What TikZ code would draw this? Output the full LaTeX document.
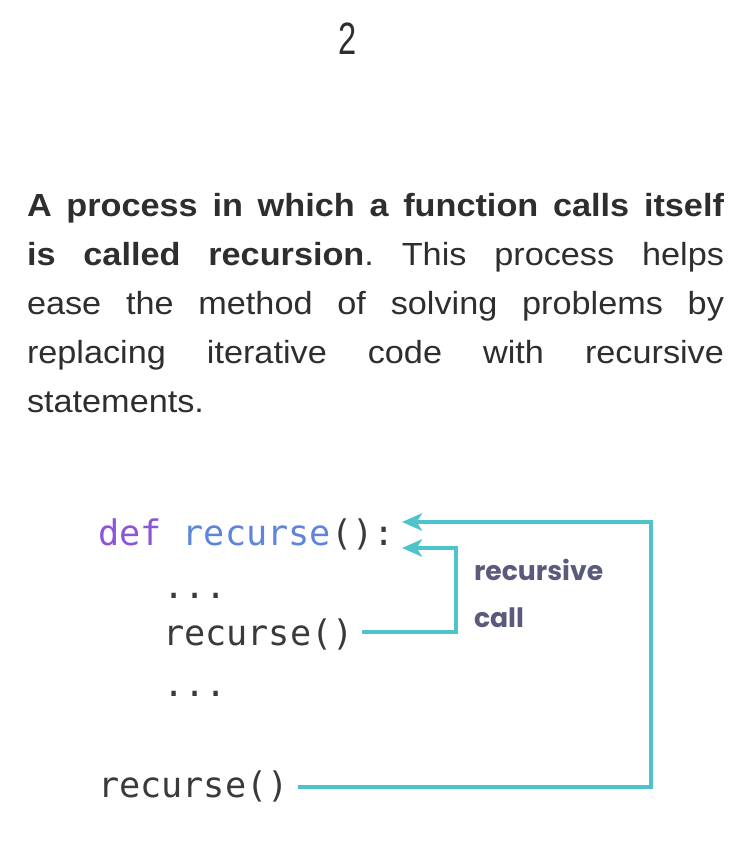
\documentclass[tikz,border=0pt]{standalone}
\usepackage{fontspec}
\setmainfont{Liberation Sans}
\newfontfamily\bodyfont[FakeStretch=1.07]{Liberation Sans}
\newfontfamily\numfont[FakeStretch=0.72]{Liberation Sans}
\newfontfamily\codefont{DejaVu Sans Mono}
\newfontfamily\labelfont{Poppins}
\usetikzlibrary{arrows.meta}
\definecolor{linkteal}{HTML}{4EC3CB}
\definecolor{kwpurple}{HTML}{8B55D9}
\definecolor{fnblue}{HTML}{5E85DB}
\definecolor{codegray}{HTML}{3A3A3A}
\definecolor{notegray}{HTML}{5A5A7C}
\definecolor{bodygray}{HTML}{2E2E2E}
\begin{document}
\begin{tikzpicture}[
        x=0.75pt, y=-0.75pt,
        every node/.style={inner sep=0pt, outer sep=0pt},
        code/.style={anchor=base west, font=\codefont\fontsize{26.4}{30}\selectfont, text=codegray},
        note/.style={anchor=west, font=\labelfont\bfseries\fontsize{20}{24}\selectfont, text=notegray},
        link/.style={draw=linkteal, line width=3pt, line join=miter,
            -{Stealth[length=15pt, width=13pt, inset=4pt]}}
    ]
        \useasboundingbox (0,0) rectangle (750,856);

        % page number
        \node[anchor=base, font=\numfont\fontsize{34}{40}\selectfont, text=bodygray] (pagenum) at (348,55) {2};

        % paragraph
        \node[anchor=north west, text width=522.75pt, align=justify, text=bodygray,
              font=\bodyfont\fontsize{24}{36.75}\selectfont] (para) at (27,193)
            {\frenchspacing\hyphenpenalty=10000 \textbf{A process in which a function calls itself}\linebreak
             \textbf{is called recursion}. This process helps\linebreak
             ease the method of solving problems by\linebreak
             replacing iterative code with recursive\linebreak
             statements.};

        % code lines
        \node[code] (defline) at (98,545) {\textcolor{kwpurple}{def} \textcolor{fnblue}{recurse}():};
        \node[code] (dotsa)   at (163,598) {...};
        \node[code] (calla)   at (163,645) {recurse()};
        \node[code] (dotsb)   at (163,696) {...};
        \node[code] (callb)   at (98,797)  {recurse()};

        % labels
        \node[note] (notea) at (474,570) {recursive};
        \node[note] (noteb) at (474,618) {call};

        % connectors
        \coordinate (headout) at (402,522);
        \coordinate (headin)  at (402,548);
        \coordinate (turnout) at (651,522);
        \coordinate (turnin)  at (456,548);
        \coordinate (starta)  at (362,632);
        \coordinate (startb)  at (298,787);

        \draw[link] (starta) -| (turnin) -- (headin);
        \draw[link] (startb) -| (turnout) -- (headout);

    \end{tikzpicture}
\end{document}
